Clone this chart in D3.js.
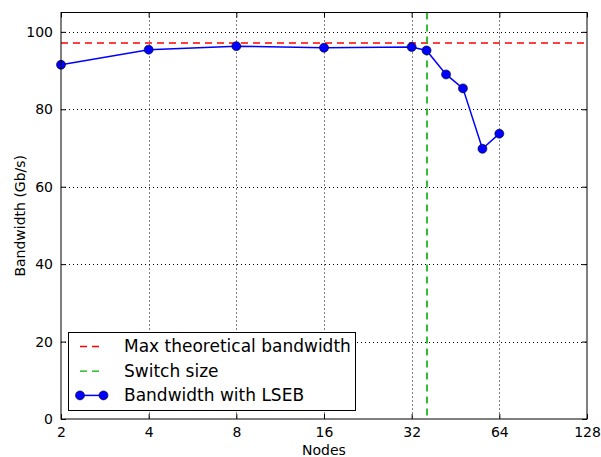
<!DOCTYPE html>
<html>
<head>
<meta charset="utf-8">
<script src="https://cdn.jsdelivr.net/npm/d3@7"></script>
<style>
  body { margin: 0; background: #fff; }
  svg { font-family: "DejaVu Sans", sans-serif; }
</style>
</head>
<body>
<svg id="chart" width="601" height="457"></svg>
<script>
// data
var nodes = [2, 4, 8, 16, 32, 36, 42, 48, 56, 64];
var bandwidth = [91.5, 95.4, 96.3, 95.9, 96.1, 95.2, 89.0, 85.4, 69.8, 73.7];
var maxBandwidth = 97.0;
var switchSize = 36;
var xTicks = [2, 4, 8, 16, 32, 64, 128];
var yTicks = [0, 20, 40, 60, 80, 100];
var legendLabels = ["Max theoretical bandwidth", "Switch size", "Bandwidth with LSEB"];

var dd = { width: 601, height: 457, margin: { top: 12.5, right: 14, bottom: 38, left: 61 } };

var svg = d3.select("#chart");

var xScale = d3.scaleLog().base(2).domain([2, 128]).range([dd.margin.left, dd.width - dd.margin.right]);
var yScale = d3.scaleLinear().domain([0, 105]).range([dd.height - dd.margin.bottom, dd.margin.top]);

var x0 = xScale.range()[0], x1 = xScale.range()[1];
var y0 = yScale.range()[0], y1 = yScale.range()[1];

// grid
var grid = svg.append("g").attr("stroke", "#000").attr("stroke-width", 1).attr("stroke-dasharray", "1,3");
grid.selectAll(".vx").data(xTicks.slice(1, -1)).enter().append("line")
  .attr("x1", function(d) { return Math.round(xScale(d)) + 0.5; })
  .attr("x2", function(d) { return Math.round(xScale(d)) + 0.5; })
  .attr("y1", y1).attr("y2", y0);
grid.selectAll(".hy").data(yTicks.slice(1)).enter().append("line")
  .attr("y1", function(d) { return Math.round(yScale(d)) + 0.5; })
  .attr("y2", function(d) { return Math.round(yScale(d)) + 0.5; })
  .attr("x1", x0).attr("x2", x1);

// reference lines
var ry = Math.round(yScale(maxBandwidth));
svg.append("line")
  .attr("x1", x0).attr("x2", x1)
  .attr("y1", ry).attr("y2", ry)
  .attr("stroke", "#ff0000").attr("stroke-width", 1.6).attr("stroke-dasharray", "7,5");
var gx = Math.round(xScale(switchSize));
svg.append("line")
  .attr("x1", gx).attr("x2", gx)
  .attr("y1", y1).attr("y2", y0)
  .attr("stroke", "#00b000").attr("stroke-width", 1.6).attr("stroke-dasharray", "7,5");

// series
var pts = nodes.map(function(n, i) { return [n, bandwidth[i]]; });
var line = d3.line().x(function(d) { return xScale(d[0]); }).y(function(d) { return yScale(d[1]); });
svg.append("path").datum(pts).attr("d", line)
  .attr("fill", "none").attr("stroke", "#0000ff").attr("stroke-width", 1.5);
svg.append("g").selectAll("circle").data(pts).enter().append("circle")
  .attr("cx", function(d) { return xScale(d[0]); })
  .attr("cy", function(d) { return yScale(d[1]); })
  .attr("r", 4.5)
  .attr("fill", "#0000ff").attr("stroke", "#000").attr("stroke-width", 0.6);

// frame
svg.append("rect").attr("x", x0).attr("y", y1).attr("width", x1 - x0).attr("height", y0 - y1)
  .attr("fill", "none").attr("stroke", "#000").attr("stroke-width", 1);

// axes, ticks inside like matplotlib classic
var xAxisGen = d3.axisBottom(xScale).tickValues(xTicks).tickFormat(d3.format("d")).tickSizeInner(-5).tickSizeOuter(0).tickPadding(8);
svg.append("g").attr("transform", "translate(0," + y0 + ")").call(xAxisGen)
  .call(function(g) { g.select(".domain").remove(); });
svg.append("g").attr("transform", "translate(0," + y1 + ")")
  .call(d3.axisTop(xScale).tickValues(xTicks).tickSizeInner(-5).tickSizeOuter(0).tickFormat(""))
  .call(function(g) { g.select(".domain").remove(); });

var yAxisGen = d3.axisLeft(yScale).tickValues(yTicks).tickSizeInner(-5).tickSizeOuter(0).tickPadding(8);
svg.append("g").attr("transform", "translate(" + x0 + ",0)").call(yAxisGen)
  .call(function(g) { g.select(".domain").remove(); });
svg.append("g").attr("transform", "translate(" + x1 + ",0)")
  .call(d3.axisRight(yScale).tickValues(yTicks).tickSizeInner(-5).tickSizeOuter(0).tickFormat(""))
  .call(function(g) { g.select(".domain").remove(); });

svg.selectAll(".tick text").attr("font-size", 14).attr("font-family", "DejaVu Sans").attr("fill", "#000");
svg.selectAll(".tick line").attr("stroke", "#000");

// axis labels
svg.append("text").attr("x", (x0 + x1) / 2).attr("y", 455).attr("text-anchor", "middle")
  .attr("font-size", 14).text("Nodes");
svg.append("text").attr("transform", "translate(25," + ((y0 + y1) / 2) + ") rotate(-90)")
  .attr("text-anchor", "middle").attr("font-size", 14).text("Bandwidth (Gb/s)");

// legend
var lg = svg.append("g").attr("transform", "translate(68.5,332.5)");
lg.append("rect").attr("width", 287).attr("height", 78).attr("fill", "#fff").attr("stroke", "#000").attr("stroke-width", 1);
var rows = lg.selectAll(".row").data(legendLabels).enter().append("g")
  .attr("transform", function(d, i) { return "translate(0," + (13.5 + i * 24.7) + ")"; });
rows.append("text").attr("x", 55.5).attr("y", 6).attr("font-size", 17).text(function(d) { return d; });
rows.filter(function(d, i) { return i < 2; }).append("line")
  .attr("x1", 11.5).attr("x2", 35).attr("y1", 0.5).attr("y2", 0.5)
  .attr("stroke", function(d) { return d === legendLabels[0] ? "#ff0000" : "#00b000"; })
  .attr("stroke-dasharray", "7,5").attr("stroke-width", 1.3);
var last = rows.filter(function(d, i) { return i === 2; });
last.append("line").attr("x1", 11.5).attr("x2", 35).attr("y1", 0).attr("y2", 0)
  .attr("stroke", "#0000ff").attr("stroke-width", 1.5);
last.selectAll("circle").data([11.5, 35]).enter().append("circle")
  .attr("cx", function(d) { return d; }).attr("cy", 0).attr("r", 4.5)
  .attr("fill", "#0000ff").attr("stroke", "#000").attr("stroke-width", 0.6);
</script>
</body>
</html>
